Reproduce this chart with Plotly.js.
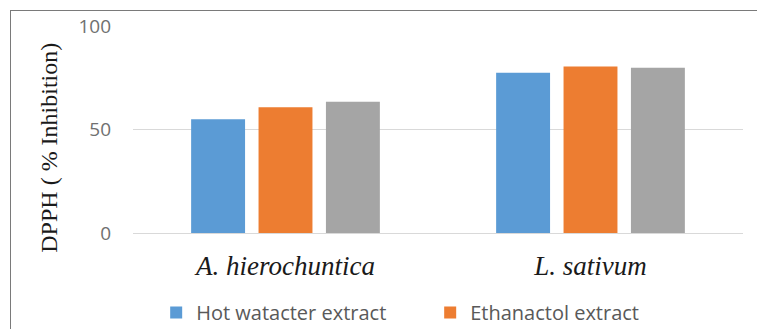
<!DOCTYPE html>
<html>
<head>
<meta charset="utf-8">
<script src="https://cdn.plot.ly/plotly-3.0.1.min.js"></script>
<style>
  html, body { margin: 0; padding: 0; background: #fff; }
  #wrap { position: relative; width: 757px; height: 329px; overflow: hidden; }
  #chart { position: absolute; left: 0; top: 0; width: 757px; height: 329px; }
  /* outer chart frame: only its left and top edges fall inside the view */
  #frame { position: absolute; left: 10px; top: 10px; width: 800px; height: 400px;
           border-left: 1.5px solid #7a7a7a; border-top: 1.5px solid #7a7a7a;
           pointer-events: none; }
</style>
</head>
<body>
<div id="wrap">
  <div id="chart"></div>
  <div id="frame"></div>
</div>
<script>
// Plants tested
const categories = ['A. hierochuntica', 'L. sativum'];
const categoryLabels = ['<i>A. hierochuntica</i>', '<i>L. sativum</i>'];

// DPPH radical scavenging (% inhibition) per extract
const hotWaterExtract = [54.9, 77.4];
const ethanolExtract = [60.7, 80.4];
const thirdSeries = [63.4, 79.8];

const seriesNames = ['Hot watacter extract', 'Ethanactol extract', 'Standard'];
const yTicks = [0, 50, 100];
const yTitle = 'DPPH ( % Inhibition)';

const colors = ['#5b9bd5', '#ed7d31', '#a5a5a5'];
const values = [hotWaterExtract, ethanolExtract, thirdSeries];

const traces = values.map((v, i) => ({
  type: 'bar',
  x: categories,
  y: v,
  name: seriesNames[i],
  marker: { color: colors[i] },
  showlegend: i < 2,
  hoverinfo: 'x+y+name'
}));

const layout = {
  width: 757,
  height: 329,
  margin: { l: 133, r: 14, t: 26, b: 96, autoexpand: false },
  paper_bgcolor: '#ffffff',
  plot_bgcolor: '#ffffff',
  barmode: 'group',
  bargap: 0.337,
  bargroupgap: 0.2,
  showlegend: true,
  legend: {
    orientation: 'h',
    x: 0.038,
    xanchor: 'left',
    y: -0.29,
    yanchor: 'top',
    entrywidth: 229,
    entrywidthmode: 'pixels',
    font: { family: 'Open Sans, sans-serif', size: 20, color: '#595959' },
    traceorder: 'normal'
  },
  xaxis: {
    type: 'category',
    tickvals: categories,
    ticktext: categoryLabels,
    range: [-0.5, 1.5],
    showgrid: false,
    showline: false,
    zeroline: false,
    ticks: '',
    ticklabelstandoff: 14,
    tickfont: { family: 'Liberation Serif, Times New Roman, serif', size: 27, color: '#1a1a1a' },
    fixedrange: true
  },
  yaxis: {
    range: [0, 100],
    tickvals: yTicks,
    ticktext: yTicks.map(String),
    showgrid: true,
    gridcolor: '#d9d9d9',
    gridwidth: 1,
    zeroline: true,
    zerolinecolor: '#d9d9d9',
    zerolinewidth: 1,
    showline: false,
    ticks: '',
    ticklabelstandoff: 21,
    tickfont: { family: 'Open Sans, sans-serif', size: 19, color: '#707070' },
    fixedrange: true
  },
  // vertical axis title, set a little below the plot's middle
  annotations: [{
    text: yTitle,
    textangle: -90,
    xref: 'paper', yref: 'paper',
    x: -0.139, y: 0.413,
    xanchor: 'center', yanchor: 'middle',
    showarrow: false,
    font: { family: 'Liberation Serif, Times New Roman, serif', size: 24, color: '#1a1a1a' }
  }]
};

Plotly.newPlot('chart', traces, layout, { displayModeBar: false, staticPlot: true });
</script>
</body>
</html>
